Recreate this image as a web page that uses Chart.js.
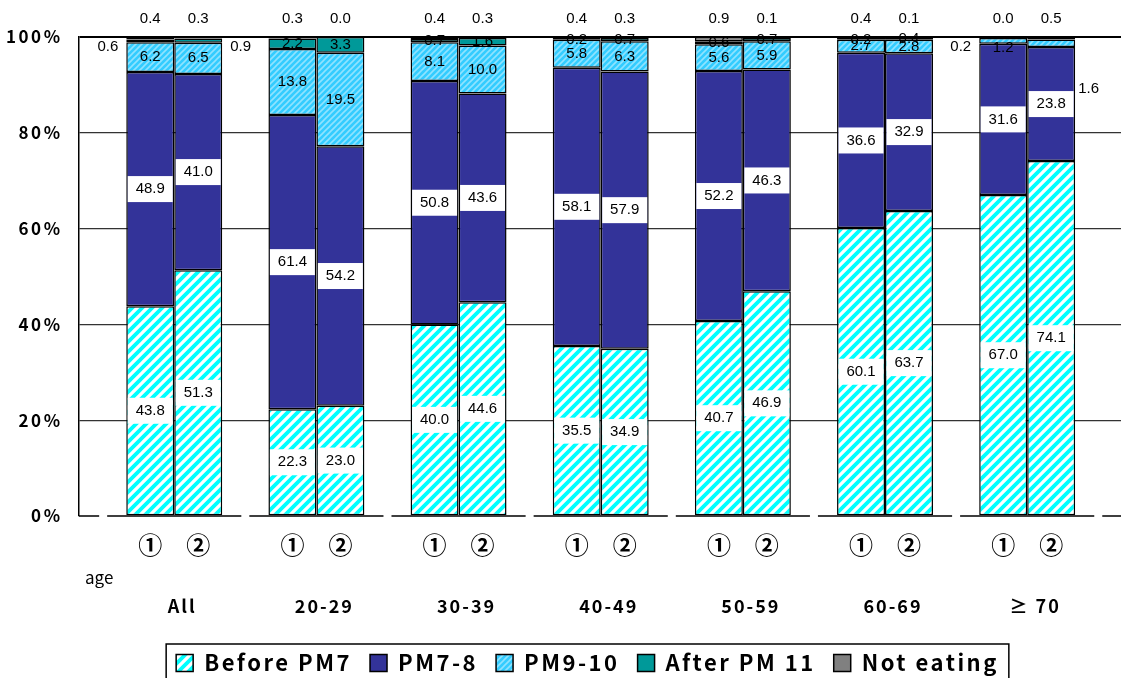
<!DOCTYPE html>
<html>
<head>
<meta charset="utf-8">
<script src="https://cdn.jsdelivr.net/npm/chart.js@4"></script>
<style>
html, body { margin: 0; padding: 0; background: #fff; }
#wrap { width: 1121px; height: 678px; position: relative; }
</style>
</head>
<body>
<div id="wrap"><canvas id="chartCanvas"></canvas></div>
<script>
const ageGroups = ["All", "20-29", "30-39", "40-49", "50-59", "60-69", "≥ 70"];
const surveys = ["①", "②"];
const seriesNames = ["Before PM7", "PM7-8", "PM9-10", "After PM 11", "Not eating"];
const yTicks = [0, 20, 40, 60, 80, 100];

// survey ① (%)
const beforePm7_1 = [43.8, 22.3, 40.0, 35.5, 40.7, 60.1, 67.0];
const pm7to8_1 = [48.9, 61.4, 50.8, 58.1, 52.2, 36.6, 31.6];
const pm9to10_1 = [6.2, 13.8, 8.1, 5.8, 5.6, 2.7, 1.2];
const afterPm11_1 = [0.6, 2.2, 0.7, 0.2, 0.6, 0.2, 0.2];
const notEating_1 = [0.4, 0.3, 0.4, 0.4, 0.9, 0.4, 0.0];

// survey ② (%)
const beforePm7_2 = [51.3, 23.0, 44.6, 34.9, 46.9, 63.7, 74.1];
const pm7to8_2 = [41.0, 54.2, 43.6, 57.9, 46.3, 32.9, 23.8];
const pm9to10_2 = [6.5, 19.5, 10.0, 6.3, 5.9, 2.8, 1.6];
const afterPm11_2 = [0.9, 3.3, 1.6, 0.7, 0.7, 0.4, 0.0];
const notEating_2 = [0.3, 0.0, 0.3, 0.3, 0.1, 0.1, 0.5];

const GOTHIC = "'Noto Sans CJK JP', 'DejaVu Sans', sans-serif";
const LABEL_FONT = "15px 'Liberation Sans', Arial, sans-serif";
const SPACING = "2.5px";

function stripes(bg, fg, size, width) {
    const c = document.createElement("canvas");
    c.width = size;
    c.height = size;
    const g = c.getContext("2d");
    g.fillStyle = bg;
    g.fillRect(0, 0, size, size);
    g.strokeStyle = fg;
    g.lineWidth = width;
    g.beginPath();
    for (let k = -1; k <= 1; k++) {
        g.moveTo(k * size - 2, size + 2);
        g.lineTo(k * size + size + 2, -2);
    }
    g.stroke();
    return g.createPattern(c, "repeat");
}

const fills = [
    stripes("#ffffff", "#00ffff", 10, 3.8),
    "#333399",
    stripes("#33ccff", "#8fe3ff", 6, 1.6),
    "#009999",
    "#808080"
];

const bySurvey = [
    [beforePm7_1, pm7to8_1, pm9to10_1, afterPm11_1, notEating_1],
    [beforePm7_2, pm7to8_2, pm9to10_2, afterPm11_2, notEating_2]
];

const datasets = [];
seriesNames.forEach((name, s) => {
    bySurvey.forEach((set, k) => {
        datasets.push({
            label: name,
            stack: "s" + k,
            seg: s,
            survey: k,
            data: set[s].map((v, i) => ({ x: i, y: v })),
            backgroundColor: fills[s],
            borderColor: "#000",
            borderWidth: 1.5,
            borderSkipped: false
        });
    });
});

function drawText(ctx, txt, x, y, align) {
    ctx.textAlign = align || "center";
    ctx.fillText(txt, x, y);
}

// wider gothic look for axis and legend text, legend sits a bit right of centre
const spacing = {
    id: "spacing",
    beforeLayout(chart) { chart.ctx.letterSpacing = SPACING; },
    afterLayout(chart) {
        chart.legend.left += 27;
        chart.legend.right += 27;
    },
    beforeDraw(chart) { chart.ctx.letterSpacing = SPACING; }
};

const decorations = {
    id: "decorations",
    afterDatasetsDraw(chart) {
        const { ctx, chartArea, scales: { x, y } } = chart;
        const last = ageGroups.length - 1;
        const top = y.getPixelForValue(100);

        ctx.save();
        ctx.letterSpacing = "0px";

        // broken baseline, one piece per age group
        ctx.strokeStyle = "#000";
        ctx.lineWidth = 1.5;
        ctx.beginPath();
        const y0 = y.getPixelForValue(0);
        let start = chartArea.left;
        for (let i = 0; i <= ageGroups.length; i++) {
            const edge = x.getPixelForValue(i - 0.5);
            ctx.moveTo(start, y0);
            ctx.lineTo(edge - 4, y0);
            start = edge + 4;
        }
        ctx.moveTo(start, y0);
        ctx.lineTo(chartArea.right, y0);
        ctx.stroke();

        // value labels
        ctx.font = LABEL_FONT;
        ctx.textBaseline = "middle";
        chart.data.datasets.forEach((ds, d) => {
            const meta = chart.getDatasetMeta(d);
            meta.data.forEach((bar, i) => {
                const v = ds.data[i].y;
                const txt = v.toFixed(1);
                const mid = (bar.y + bar.base) / 2;
                const half = bar.width / 2;
                const edgeGroup = i === 0 || i === last;
                ctx.fillStyle = "#000";
                if (ds.seg <= 1) {
                    ctx.fillStyle = "#fff";
                    ctx.fillRect(bar.x - half + 1.5, mid - 13, bar.width - 3, 26);
                    ctx.fillStyle = "#000";
                    drawText(ctx, txt, bar.x, mid);
                } else if (ds.seg === 2) {
                    if (edgeGroup && ds.survey === 1 && v < 2) {
                        drawText(ctx, txt, bar.x + half + 3, top + 52, "left");
                    } else if (edgeGroup && v < 2) {
                        drawText(ctx, txt, bar.x, top + 11);
                    } else {
                        drawText(ctx, txt, bar.x, mid);
                    }
                } else if (ds.seg === 3) {
                    if (edgeGroup) {
                        if (ds.survey === 0) drawText(ctx, txt, bar.x - half - 8, top + 10, "right");
                        else if (i === last) drawText(ctx, txt, bar.x + half + 50, top - 7, "left");
                        else drawText(ctx, txt, bar.x + half + 8, top + 10, "left");
                    } else {
                        drawText(ctx, txt, bar.x, mid);
                    }
                } else {
                    drawText(ctx, txt, bar.x, top - 18);
                }
            });
        });

        // survey marks and age group names
        ctx.fillStyle = "#000";
        ctx.font = "bold 24px " + GOTHIC;
        [0, 1].forEach(k => {
            chart.getDatasetMeta(k).data.forEach(bar => {
                drawText(ctx, surveys[k], bar.x, chartArea.bottom + 29);
            });
        });
        ctx.font = "17px " + GOTHIC;
        drawText(ctx, "age", chartArea.left + 6, chartArea.bottom + 62, "left");
        ctx.letterSpacing = "2px";
        ctx.font = "bold 18px " + GOTHIC;
        ageGroups.forEach((g, i) => {
            drawText(ctx, g, x.getPixelForValue(i) + 8, chartArea.bottom + 90);
        });

        // legend frame
        const boxes = chart.legend.legendHitBoxes;
        if (boxes && boxes.length) {
            const l = Math.min(...boxes.map(b => b.left)) - 10;
            const r = Math.max(...boxes.map(b => b.left + b.width)) + 10;
            const t = Math.min(...boxes.map(b => b.top)) - 8;
            ctx.strokeStyle = "#000";
            ctx.lineWidth = 1.5;
            ctx.strokeRect(l, t, r - l, chart.height - t + 5);
        }
        ctx.restore();
    }
};

const chart = new Chart(document.getElementById("chartCanvas"), {
    type: "bar",
    data: { datasets },
    options: {
        responsive: true,
        maintainAspectRatio: false,
        animation: false,
        devicePixelRatio: 1,
        layout: { padding: { top: 37, right: 0, left: 0, bottom: -6 } },
        datasets: {
            bar: { categoryPercentage: 0.675, barPercentage: 1 }
        },
        scales: {
            x: {
                type: "linear",
                stacked: true,
                offset: false,
                min: -0.67,
                max: 6.66,
                afterBuildTicks: s => { s.ticks = ageGroups.map((g, i) => ({ value: i })); },
                afterFit: s => { s.height = 118; },
                ticks: { display: false },
                grid: { display: false },
                border: { display: false }
            },
            y: {
                stacked: true,
                min: 0,
                max: 100,
                afterBuildTicks: s => { s.ticks = yTicks.map(v => ({ value: v })); },
                afterFit: s => { s.width = 79; },
                ticks: {
                    padding: 16.5,
                    color: "#000",
                    font: { family: GOTHIC, size: 17, weight: "bold" },
                    callback: v => v + "%"
                },
                grid: {
                    drawTicks: false,
                    color: c => c.tick.value === 0 ? "rgba(0,0,0,0)" : (c.tick.value === 100 ? "#000" : "#333"),
                    lineWidth: c => c.tick.value === 100 ? 2 : 1.3
                },
                border: { display: true, color: "#000", width: 1.5 }
            }
        },
        plugins: {
            legend: {
                position: "bottom",
                labels: {
                    filter: item => item.datasetIndex % 2 === 0,
                    color: "#000",
                    boxWidth: 17,
                    boxHeight: 17,
                    padding: 18,
                    font: { family: GOTHIC, size: 22, weight: "bold" }
                }
            },
            tooltip: { enabled: false }
        }
    },
    plugins: [spacing, decorations]
});
</script>
</body>
</html>
